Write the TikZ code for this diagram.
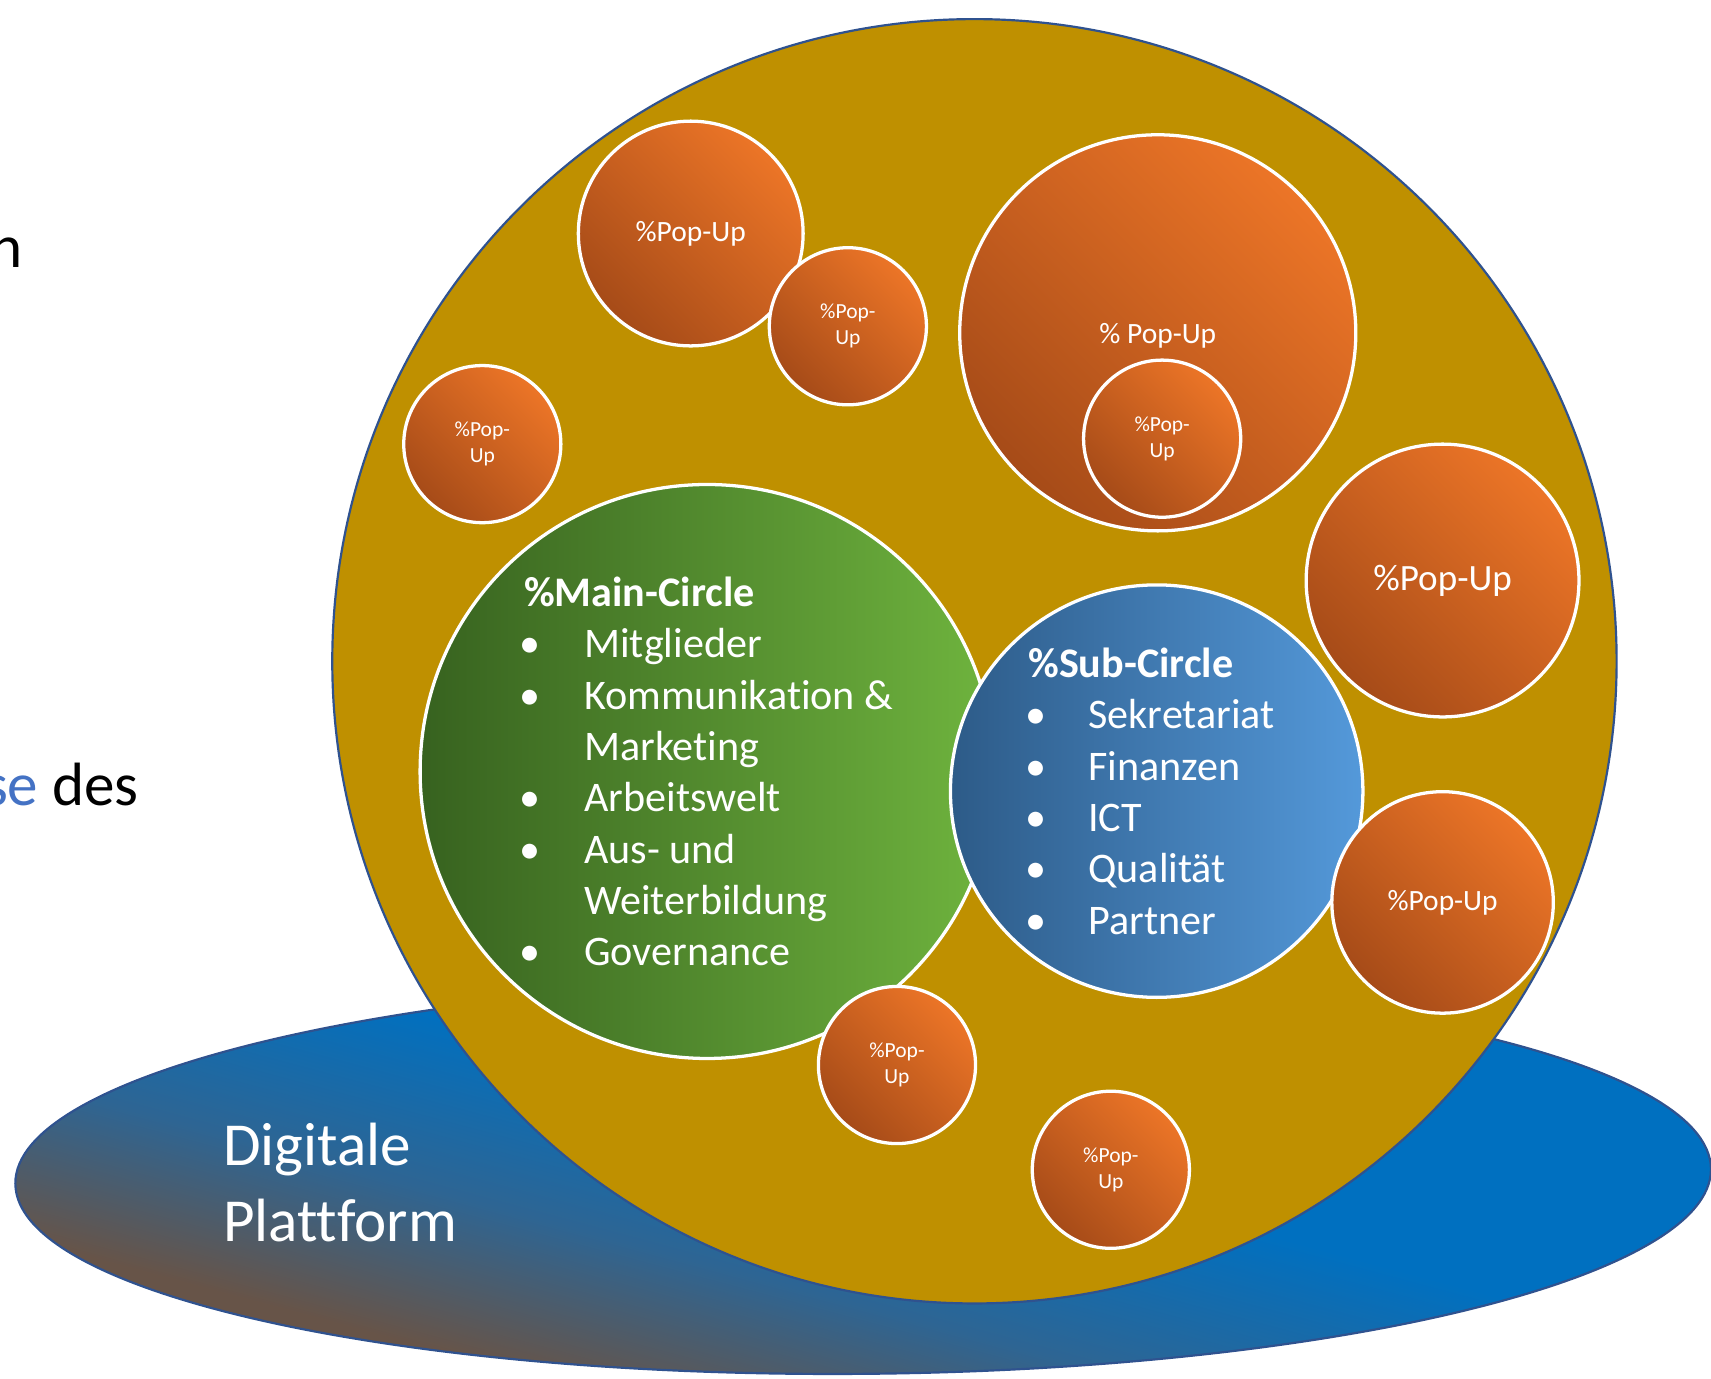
\documentclass[tikz,border=0pt]{standalone}
\usepackage{fontspec}
\setmainfont{Carlito}[Ligatures={NoCommon}]
\definecolor{gold}{HTML}{BF9000}
\definecolor{goldedge}{HTML}{2F528F}
\definecolor{pbrown}{HTML}{675448}
\definecolor{pmid}{HTML}{2E6593}
\definecolor{pblue}{HTML}{0070C0}
\definecolor{oraL}{HTML}{EC7527}
\definecolor{oraD}{HTML}{A64B18}
\definecolor{grnD}{HTML}{37621F}
\definecolor{grnL}{HTML}{6FB43E}
\definecolor{bluD}{HTML}{2D5B88}
\definecolor{bluL}{HTML}{5499DA}
\definecolor{seblue}{HTML}{4472C4}
\pgfdeclareverticalshading{platshade}{100bp}{color(0bp)=(pbrown); color(42bp)=(pbrown); color(46.4bp)=(pmid); color(51.4bp)=(pblue); color(100bp)=(pblue)}
\newcommand\fsList{\fontsize{19.3pt}{23.5pt}\selectfont}
\newcommand\fsBig{\fontsize{28pt}{35pt}\selectfont}
\newcommand\fsSmall{\fontsize{9.85pt}{12pt}\selectfont}
\newcommand\fsMid{\fontsize{13.5pt}{16pt}\selectfont}
\newcommand\fsLarge{\fontsize{17pt}{20pt}\selectfont}
\begin{document}
\begin{tikzpicture}[x=0.5pt,y=-0.5pt,
  popup/.style={circle, draw=white, line width=1.5pt, inner sep=0pt,
    top color=oraL, bottom color=oraD, shading angle=-45,
    text=white, align=center},
  wtxt/.style={text=white, inner sep=0pt},
  ktxt/.style={text=black, inner sep=0pt},
  bul/.style={text=white, inner sep=0pt, anchor=base, font=\fsList},
  itm/.style={text=white, inner sep=0pt, anchor=base west, font=\fsList}]
\useasboundingbox (0,0) rectangle (1568,1263);

% platform ellipse
\begin{scope}
  \clip[rotate around={0.5:(791,1078)}] (791,1078) ellipse [x radius=777, y radius=181];
  \shade[shading=platshade, shading angle=-15] (-9,278) rectangle (1591,1878);
\end{scope}
\draw[goldedge, line width=1pt, rotate around={0.5:(791,1078)}] (791,1078) ellipse [x radius=777, y radius=181];

% world circle
\node[circle, fill=gold, draw=goldedge, line width=1pt, minimum size=588.5pt, inner sep=0pt] (world) at (893,606) {};

% pop-ups (upper)
\node[popup, minimum size=103pt, font=\fsMid] (p1) at (633,214) {\%Pop-Up};
\node[popup, minimum size=72pt, font=\fsSmall] (p2) at (777,299) {\%Pop-\\Up};
\node[popup, minimum size=72pt, font=\fsSmall] (p3) at (442,407) {\%Pop-\\Up};
\node[popup, minimum size=181.5pt, font=\fsMid] (p4) at (1061,305) {};
\node[wtxt, font=\fsMid] (p4t) at (1061,308) {\% Pop-Up};
\node[popup, minimum size=72pt, font=\fsSmall] (p5) at (1065,402) {\%Pop-\\Up};
\node[popup, minimum size=125pt, font=\fsLarge] (p6) at (1322,532) {\%Pop-Up};

% main and sub circles
\node[circle, draw=white, line width=1.5pt, inner sep=0pt, minimum size=263pt,
  left color=grnD, right color=grnL] (main) at (648,707) {};
\node[circle, draw=white, line width=1.5pt, inner sep=0pt, minimum size=189pt,
  left color=bluD, right color=bluL] (sub) at (1060,725) {};

% pop-ups (lower)
\node[popup, minimum size=101.5pt, font=\fsMid] (p7) at (1322,827) {\%Pop-Up};
\node[popup, minimum size=72pt, font=\fsSmall] (p8) at (822,976) {\%Pop-\\Up};
\node[popup, minimum size=72pt, font=\fsSmall] (p9) at (1018,1072) {\%Pop-\\Up};

% main circle text
\node[itm] (mh) at (480,556) {\textbf{\%Main-Circle}};
\node[bul] (mb1) at (486,603) {•};
\node[itm] (mi1) at (535,603) {Mitglieder};
\node[bul] (mb2) at (486,650) {•};
\node[itm] (mi2) at (535,650) {Kommunikation \&};
\node[itm] (mi3) at (535,697) {Marketing};
\node[bul] (mb4) at (486,744) {•};
\node[itm] (mi4) at (535,744) {Arbeitswelt};
\node[bul] (mb5) at (486,791) {•};
\node[itm] (mi5) at (535,791) {Aus- und};
\node[itm] (mi6) at (535,838) {Weiterbildung};
\node[bul] (mb7) at (486,885) {•};
\node[itm] (mi7) at (535,885) {Governance};

% sub circle text
\node[itm] (sh) at (942,621) {\textbf{\%Sub-Circle}};
\node[bul] (sb1) at (949,668) {•};
\node[itm] (si1) at (997,668) {Sekretariat};
\node[bul] (sb2) at (949,715) {•};
\node[itm] (si2) at (997,715) {Finanzen};
\node[bul] (sb3) at (949,762) {•};
\node[itm] (si3) at (997,762) {ICT};
\node[bul] (sb4) at (949,809) {•};
\node[itm] (si4) at (997,809) {Qualität};
\node[bul] (sb5) at (949,856) {•};
\node[itm] (si5) at (997,856) {Partner};

% platform text
\node[wtxt, anchor=base west, font=\fsBig] (dg1) at (204,1068) {Digitale};
\node[wtxt, anchor=base west, font=\fsBig] (dg2) at (204,1138) {Plattform};

% cut-off left texts
\node[ktxt, anchor=base east, font=\fsBig] (tn) at (21,245) {n};
\node[ktxt, anchor=base west, font=\fsBig] (tse) at (-15,738) {\textcolor{seblue}{se} des};
\end{tikzpicture}
\end{document}
